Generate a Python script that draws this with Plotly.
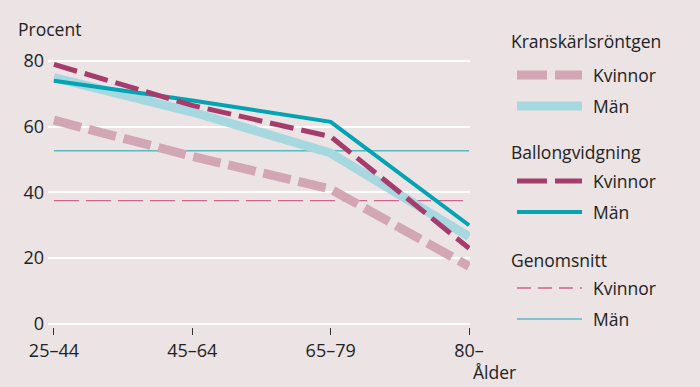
import plotly.graph_objects as go

age_groups = ["25–44", "45–64", "65–79", "80–"]
kransk_kvinnor = [62, 51, 41, 17.5]
kransk_man = [75, 64.5, 52, 26.5]
ballong_kvinnor = [79, 66.5, 57, 23]
ballong_man = [74, 68, 61.5, 30]
snitt_kvinnor = 37.5
snitt_man = 52.7
y_ticks = [0, 20, 40, 60, 80]

BG = "#ebe3e4"
PINK = "#d3a6b6"
LBLUE = "#a7d8df"
MAGENTA = "#a63c6c"
TEAL = "#00a4b3"
THIN_PINK = "#c9668f"
THIN_TEAL = "#52bcc6"
FONT = "Open Sans"
TXT = "#222222"

W, H = 700, 387
ML, MR, MT, MB = 48, 230, 48, 60
PW, PH = W - ML - MR, H - MT - MB


def px(xpix):
    return (xpix - ML) / PW


def py(ypix):
    return (H - MB - ypix) / PH


xs = list(range(len(age_groups)))

fig = go.Figure()
fig.add_trace(go.Scatter(x=[xs[0], xs[-1]], y=[snitt_kvinnor] * 2, mode="lines",
                         line=dict(color=THIN_PINK, width=1.4, dash="25px,7px")))
fig.add_trace(go.Scatter(x=[xs[0], xs[-1]], y=[snitt_man] * 2, mode="lines",
                         line=dict(color=THIN_TEAL, width=1.4)))
fig.add_trace(go.Scatter(x=xs, y=kransk_kvinnor, mode="lines",
                         line=dict(color=PINK, width=9, dash="28px,8px")))
fig.add_trace(go.Scatter(x=xs, y=kransk_man, mode="lines",
                         line=dict(color=LBLUE, width=9)))
fig.add_trace(go.Scatter(x=xs, y=ballong_man, mode="lines",
                         line=dict(color=TEAL, width=4)))
fig.add_trace(go.Scatter(x=xs, y=ballong_kvinnor, mode="lines",
                         line=dict(color=MAGENTA, width=5, dash="24px,8px")))

LFS = 17.5
# manual legend
legend_rows = [
    ("title", "Kranskärlsröntgen", 41, None),
    ("item", "Kvinnor", 75, dict(color=PINK, width=9, dash="30px,8px")),
    ("item", "Män", 106, dict(color=LBLUE, width=9)),
    ("title", "Ballongvidgning", 152, None),
    ("item", "Kvinnor", 181, dict(color=MAGENTA, width=5, dash="30px,8px")),
    ("item", "Män", 212, dict(color=TEAL, width=4)),
    ("title", "Genomsnitt", 260, None),
    ("item", "Kvinnor", 288, dict(color=THIN_PINK, width=1.4, dash="14px,7px")),
    ("item", "Män", 319, dict(color=THIN_TEAL, width=1.4)),
]
for kind, text, ypix, ln in legend_rows:
    if kind == "title":
        fig.add_annotation(x=px(509), y=py(ypix), xref="paper", yref="paper", text=text,
                           showarrow=False, xanchor="left", yanchor="middle",
                           font=dict(size=LFS, color=TXT, family=FONT))
    else:
        fig.add_shape(type="line", xref="paper", yref="paper",
                      x0=px(517), x1=px(582), y0=py(ypix), y1=py(ypix), line=ln)
        fig.add_annotation(x=px(591), y=py(ypix), xref="paper", yref="paper", text=text,
                           showarrow=False, xanchor="left", yanchor="middle",
                           font=dict(size=LFS, color=TXT, family=FONT))

fig.add_annotation(x=px(16), y=py(29), xref="paper", yref="paper", text="Procent",
                   showarrow=False, xanchor="left", yanchor="middle",
                   font=dict(size=LFS, color=TXT, family=FONT))
fig.add_annotation(x=px(471), y=py(372), xref="paper", yref="paper", text="Ålder",
                   showarrow=False, xanchor="left", yanchor="middle",
                   font=dict(size=LFS, color=TXT, family=FONT))

fig.update_layout(
    width=W, height=H, paper_bgcolor=BG, plot_bgcolor=BG,
    margin=dict(l=ML, r=MR, t=MT, b=MB, autoexpand=False),
    showlegend=False,
    font=dict(family=FONT, size=18, color=TXT),
    xaxis=dict(range=[-0.043, 3.007], tickvals=xs, ticktext=age_groups,
               showgrid=False, zeroline=False, showline=False, automargin=False,
               ticks="outside", ticklen=7, tickwidth=1.3, tickcolor="#333333"),
    yaxis=dict(range=[-1, 84], tickvals=y_ticks, showgrid=True, gridcolor="white",
               gridwidth=1.5, zeroline=False, showline=False, ticks="", automargin=False,
               ticklabelstandoff=3),
)
fig.write_html("out.html", config={"displayModeBar": False},
               post_script="document.body.style.margin='0';document.body.style.overflow='hidden';")
